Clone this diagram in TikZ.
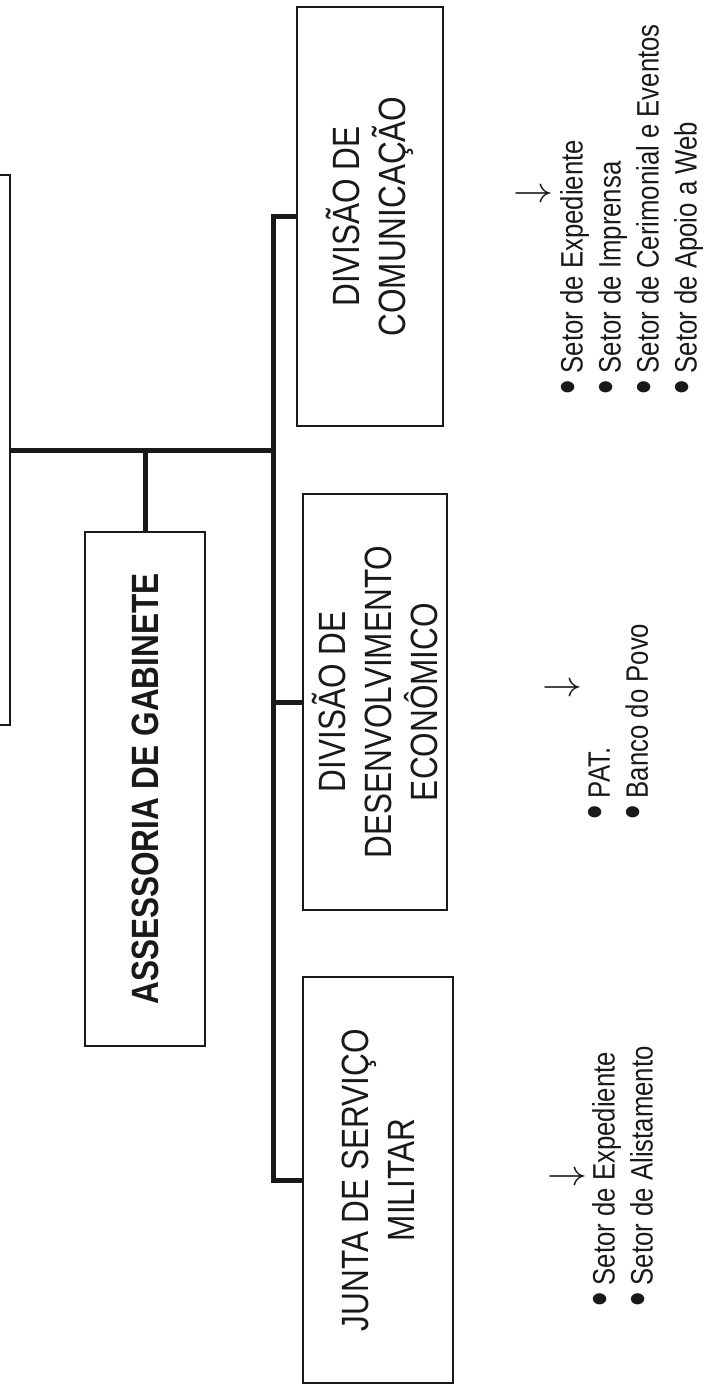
\documentclass[tikz,border=0pt]{standalone}
\usepackage{fix-cm}
\usepackage{fontspec}
\setmainfont{Liberation Sans}[FakeStretch=0.83]
\usepackage{tikz}
\usetikzlibrary{positioning, calc}
\definecolor{cInk}{RGB}{25,25,25}
\tikzset{
	orgbox/.style  ={rectangle, draw=cInk, line width=1.3pt, rotate=90, align=center, inner sep=0pt, text=cInk, font=\fontsize{38}{46}\selectfont},
	orgline/.style ={draw=cInk, line width=5pt},
	sublist/.style ={rotate=90, anchor=north west, align=left, inner sep=0pt, text=cInk, font=\fontsize{31}{38}\selectfont},
	subarrow/.style={rotate=90, inner sep=0pt, text=cInk, font=\fontsize{40}{46}\selectfont},
}
\newcommand{\bul}{\raisebox{-0.05em}{\scalebox{1.6}{\textbullet}}\ }

\begin{document}
\begin{tikzpicture}[x=1pt, y=-1pt]
	\useasboundingbox (0,0) rectangle (706,1386);
	\clip (0,0) rectangle (706,1386);
	% boxes are turned by 90 degrees: north = left side on the page, east = top
	\node[orgbox, minimum width=550pt, minimum height=200pt] (gov) at (-90,450) {};
	\node[orgbox, minimum width=514pt, minimum height=120pt, font=\bfseries\fontsize{38}{46}\selectfont] (ass) at (145,789) {ASSESSORIA DE GABINETE};
	\node[orgbox, minimum width=419pt, minimum height=146pt] (com) at (370,216.5) {DIVISÃO DE\\COMUNICAÇÃO};
	\node[orgbox, minimum width=416pt, minimum height=144pt] (dde) at (375,702) {DIVISÃO DE\\DESENVOLVIMENTO\\ECONÔMICO};
	\node[orgbox, minimum width=406pt, minimum height=150pt] (jsm) at (378,1180) {JUNTA DE SERVIÇO\\MILITAR};
	\coordinate (bus) at (274,450);
	\draw[orgline] (gov.south) -- (bus);
	\draw[orgline] (ass.east) -- (ass.east |- bus);
	\draw[orgline] (com.north) -- ++(-23,0) |- (jsm.north);
	\draw[orgline] (dde.north) -- (dde.north -| bus);
	% sectors under each division
	\node[subarrow] (comarr) at (533,193) {$\downarrow$};
	\node[subarrow] (ddearr) at (562,687) {$\downarrow$};
	\node[subarrow] (jsmarr) at (567,1176) {$\downarrow$};
	\node[sublist] (comlist) at (560,395) {\bul Setor de Expediente\\\bul Setor de Imprensa\\\bul Setor de Cerimonial e Eventos\\\bul Setor de Apoio a Web};
	\node[sublist] (ddelist) at (588,820) {\bul PAT.\\\bul Banco do Povo};
	\node[sublist] (jsmlist) at (592,1307) {\bul Setor de Expediente\\\bul Setor de Alistamento};
\end{tikzpicture}
\end{document}
